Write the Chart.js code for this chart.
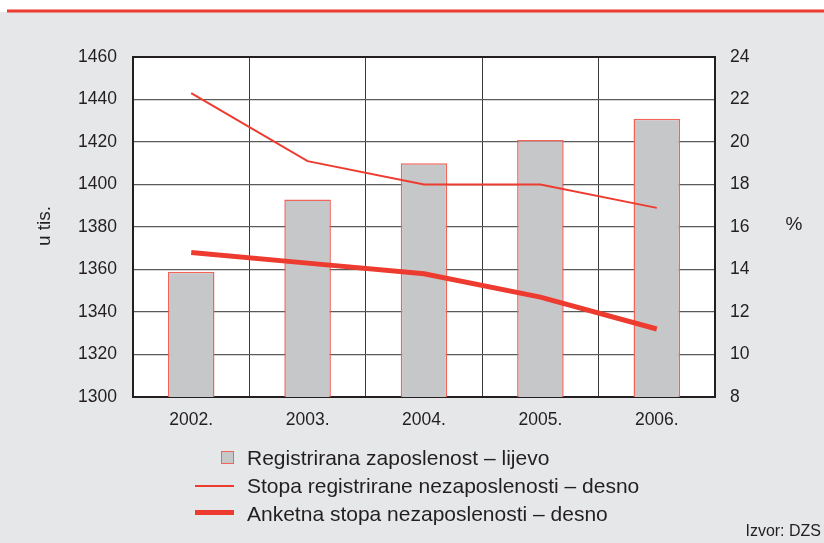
<!DOCTYPE html>
<html>
<head>
<meta charset="utf-8">
<script src="https://cdn.jsdelivr.net/npm/chart.js@4.4.1/dist/chart.umd.min.js"></script>
<style>
  html, body { margin: 0; padding: 0; background: #fff; }
  #wrap { position: relative; width: 824px; height: 543px; font-family: "Liberation Sans", Arial, sans-serif; color: #231f20; }
  #chart { position: absolute; left: 0; top: 0; }
  .lg { position: absolute; white-space: nowrap; font-size: 21px; line-height: 21px; }
  .sw { position: absolute; }
  #src { position: absolute; right: 3px; top: 523px; font-size: 16px; line-height: 16px; }
</style>
</head>
<body>
<div id="wrap">
  <canvas id="chart" width="824" height="543"></canvas>
  <div class="sw" style="left:221px;top:451px;width:11px;height:11px;background:#c6c7c9;border:1.5px solid #f0645a;"></div>
  <div class="lg" style="left:247px;top:447px;">Registrirana zaposlenost – lijevo</div>
  <div class="sw" style="left:195px;top:485px;width:39px;height:2px;background:#ee3b2f;"></div>
  <div class="lg" style="left:247px;top:475px;">Stopa registrirane nezaposlenosti – desno</div>
  <div class="sw" style="left:195px;top:510px;width:39px;height:5px;background:#ee3b2f;"></div>
  <div class="lg" style="left:247px;top:503px;">Anketna stopa nezaposlenosti – desno</div>
  <div id="src">Izvor: DZS</div>
</div>
<script>
// podaci
const godine = ['2002.', '2003.', '2004.', '2005.', '2006.'];
const zaposlenost = [1359, 1393, 1410, 1421, 1431];        // u tis., lijeva os
const stopaRegistrirana = [22.3, 19.1, 18.0, 18.0, 16.9];  // %, desna os
const stopaAnketna = [14.8, 14.3, 13.8, 12.7, 11.2];       // %, desna os

const crvena = '#ee3b2f';
const tickFont = { family: 'Liberation Sans', size: 17.5 };

// pozadina, crvena linija gore, bijelo polje grafa
const pozadina = {
  id: 'pozadina',
  beforeDraw(chart) {
    const c = chart.ctx, a = chart.chartArea;
    c.save();
    c.fillStyle = '#ffffff';
    c.fillRect(0, 0, chart.width, chart.height);
    c.fillStyle = '#e6e7e8';
    c.fillRect(0, 12, chart.width, chart.height - 12);
    c.fillStyle = crvena;
    c.fillRect(7, 9.5, chart.width - 7, 3);
    c.fillStyle = '#ffffff';
    c.fillRect(a.left, a.top, a.right - a.left, a.bottom - a.top);
    c.restore();
  },
  beforeDatasetsDraw(chart) {
    const c = chart.ctx, a = chart.chartArea;
    c.save();
    c.strokeStyle = '#231f20';
    c.lineWidth = 2;
    c.strokeRect(a.left, a.top, a.right - a.left, a.bottom - a.top);
    // naslovi osi
    c.fillStyle = '#231f20';
    c.font = '19px "Liberation Sans"';
    c.textAlign = 'center';
    c.textBaseline = 'middle';
    c.fillText('%', 794, 225);
    c.translate(45, 226);
    c.rotate(-Math.PI / 2);
    c.fillText('u tis.', 0, 0);
    c.restore();
  }
};

new Chart(document.getElementById('chart'), {
  data: {
    labels: godine,
    datasets: [
      {
        type: 'line',
        label: 'Stopa registrirane nezaposlenosti – desno',
        data: stopaRegistrirana,
        yAxisID: 'y1',
        borderColor: crvena,
        borderWidth: 2,
        pointRadius: 0,
        tension: 0,
        order: 1
      },
      {
        type: 'line',
        label: 'Anketna stopa nezaposlenosti – desno',
        data: stopaAnketna,
        yAxisID: 'y1',
        borderColor: crvena,
        borderWidth: 5,
        pointRadius: 0,
        tension: 0,
        order: 2
      },
      {
        type: 'bar',
        label: 'Registrirana zaposlenost – lijevo',
        data: zaposlenost,
        yAxisID: 'y',
        backgroundColor: '#c6c7c9',
        borderColor: '#f0645a',
        borderWidth: 1.5,
        barPercentage: 0.5,
        categoryPercentage: 0.8,
        order: 3
      }
    ]
  },
  options: {
    responsive: false,
    animation: false,
    layout: { padding: { top: 57, left: 0, right: 0, bottom: 0 } },
    plugins: { legend: { display: false }, tooltip: { enabled: false } },
    scales: {
      x: {
        offset: true,
        grid: { offset: true, color: '#3a3a3a', lineWidth: 1, drawTicks: false },
        border: { display: false },
        ticks: { font: tickFont, color: '#231f20', padding: 13 },
        afterFit(s) { s.height = 146; }
      },
      y: {
        position: 'left',
        min: 1300, max: 1460,
        grid: { color: '#5a5a5a', lineWidth: 1.2, drawTicks: false },
        border: { display: false },
        ticks: { stepSize: 20, font: tickFont, color: '#231f20', padding: 16, callback: v => String(v) },
        afterFit(s) { s.width = 133; }
      },
      y1: {
        position: 'right',
        min: 8, max: 24,
        grid: { display: false, drawTicks: false },
        border: { display: false },
        ticks: { stepSize: 2, font: tickFont, color: '#231f20', padding: 15, callback: v => String(v) },
        afterFit(s) { s.width = 109; }
      }
    }
  },
  plugins: [pozadina]
});
</script>
</body>
</html>
